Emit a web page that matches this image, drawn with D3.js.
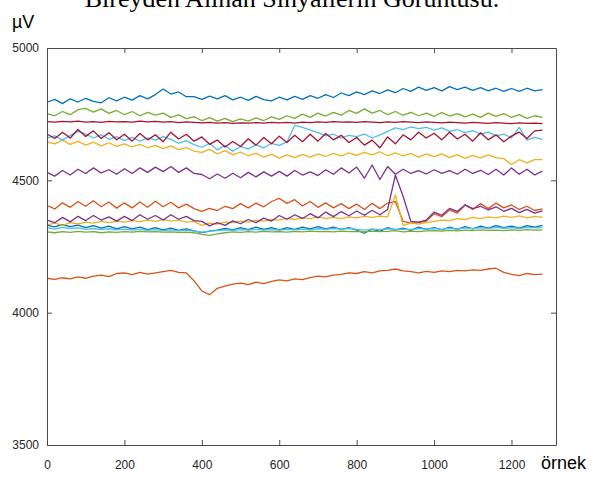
<!DOCTYPE html>
<html>
<head>
<meta charset="utf-8">
<script src="https://cdn.jsdelivr.net/npm/d3@7"></script>
<style>
  body { margin: 0; background: #fff; }
  .axis text { font-family: "Liberation Sans", Arial, sans-serif; font-size: 12px; fill: #262626; }
  .axis path, .axis line { stroke: #4a4a4a; }
  .sig { fill: none; stroke-width: 1.3; stroke-linejoin: round; }
</style>
</head>
<body>
<svg id="chart" width="614" height="478"></svg>
<script>
// one value every 20 samples, 0..1280
var step = 20;
var xTicks = [0, 200, 400, 600, 800, 1000, 1200];
var yTicks = [3500, 4000, 4500, 5000];

var blueTop = [4795,4806,4790,4808,4796,4810,4798,4793,4812,4800,
  4814,4803,4820,4808,4824,4845,4826,4834,4816,4816,
  4806,4818,4808,4820,4804,4814,4802,4817,4805,4800,
  4814,4804,4817,4806,4820,4810,4824,4813,4830,4820,
  4834,4824,4838,4828,4842,4831,4847,4836,4852,4840,
  4850,4838,4854,4843,4852,4840,4850,4838,4848,4836,
  4847,4836,4848,4838,4843];
var orangeMid = [4405,4392,4415,4398,4420,4402,4423,4400,4418,4395,
  4415,4396,4418,4398,4421,4400,4417,4396,4410,4393,
  4383,4394,4386,4402,4393,4412,4396,4414,4400,4420,
  4432,4413,4427,4403,4420,4398,4415,4396,4412,4393,
  4410,4390,4413,4393,4414,4420,4345,4338,4340,4346,
  4374,4363,4388,4376,4407,4390,4412,4393,4414,4396,
  4407,4390,4402,4386,4392];
var yellowTop = [4645,4638,4652,4636,4647,4633,4644,4630,4642,4628,
  4638,4626,4636,4623,4632,4620,4630,4616,4624,4610,
  4606,4617,4600,4612,4596,4607,4593,4602,4588,4598,
  4584,4596,4586,4598,4588,4600,4590,4602,4592,4604,
  4594,4606,4596,4608,4593,4604,4592,4602,4588,4600,
  4590,4600,4586,4597,4583,4594,4584,4596,4586,4582,
  4560,4578,4566,4578,4578];
var purpleTop = [4530,4516,4537,4520,4542,4526,4547,4528,4540,4523,
  4544,4526,4547,4530,4550,4533,4552,4530,4547,4526,
  4522,4506,4524,4508,4527,4510,4530,4513,4532,4516,
  4534,4516,4537,4520,4532,4518,4540,4523,4547,4528,
  4550,4508,4558,4503,4552,4523,4542,4526,4537,4524,
  4540,4526,4537,4523,4542,4526,4538,4522,4542,4520,
  4547,4523,4542,4520,4535];
var greenTop = [4752,4744,4760,4748,4767,4772,4758,4770,4753,4764,
  4748,4760,4744,4757,4746,4754,4738,4747,4733,4740,
  4726,4737,4724,4734,4722,4732,4724,4736,4726,4740,
  4730,4744,4734,4750,4738,4754,4743,4757,4746,4764,
  4753,4770,4754,4764,4748,4760,4746,4757,4744,4754,
  4742,4756,4743,4752,4740,4750,4738,4754,4742,4752,
  4738,4748,4734,4744,4738];
var lightBlueTop = [4660,4668,4652,4670,4685,4675,4660,4672,4655,4665,
  4650,4662,4648,4660,4652,4665,4655,4640,4650,4635,
  4625,4640,4615,4632,4610,4628,4618,4635,4622,4640,
  4632,4645,4708,4700,4690,4680,4668,4675,4660,4670,
  4665,4675,4660,4672,4685,4698,4692,4702,4695,4700,
  4690,4698,4685,4692,4680,4688,4675,4682,4668,4675,
  4660,4700,4652,4662,4655];
var darkRedFlat = [4722,4720,4723,4721,4724,4720,4722,4719,4723,4721,
  4722,4720,4724,4721,4723,4720,4722,4718,4721,4719,
  4717,4719,4716,4718,4715,4717,4716,4718,4716,4719,
  4717,4719,4716,4720,4718,4721,4719,4722,4720,4721,
  4719,4722,4720,4718,4721,4719,4722,4720,4718,4721,
  4719,4717,4720,4718,4716,4719,4717,4715,4718,4716,
  4714,4717,4715,4716,4714];
var blueLow = [4330,4324,4333,4325,4331,4321,4329,4319,4327,4317,
  4325,4317,4323,4314,4321,4313,4319,4311,4317,4309,
  4302,4308,4312,4318,4313,4321,4314,4323,4315,4321,
  4313,4321,4315,4323,4317,4325,4317,4323,4315,4321,
  4312,4300,4316,4307,4321,4313,4319,4311,4323,4315,
  4321,4313,4323,4315,4325,4317,4327,4319,4329,4321,
  4327,4319,4329,4323,4330];
var orangeLow = [4130,4126,4132,4128,4135,4130,4138,4142,4136,4148,
  4150,4144,4152,4146,4150,4155,4160,4152,4150,4120,
  4082,4068,4092,4100,4108,4112,4106,4115,4110,4118,
  4124,4120,4128,4125,4132,4138,4135,4142,4145,4150,
  4148,4155,4150,4158,4160,4165,4158,4155,4150,4156,
  4152,4158,4155,4160,4158,4162,4160,4165,4168,4152,
  4145,4140,4148,4144,4146];
var yellowLow = [4332,4338,4330,4340,4335,4342,4338,4345,4340,4346,
  4342,4348,4344,4350,4345,4352,4346,4350,4342,4345,
  4330,4338,4335,4342,4340,4346,4342,4350,4346,4352,
  4350,4356,4352,4358,4355,4362,4356,4360,4355,4362,
  4358,4364,4360,4365,4362,4445,4330,4338,4335,4340,
  4345,4350,4348,4355,4352,4360,4355,4362,4358,4365,
  4360,4366,4358,4364,4360];
var purpleLow = [4350,4340,4360,4343,4364,4348,4367,4350,4362,4346,
  4364,4348,4370,4353,4367,4350,4370,4353,4364,4348,
  4345,4328,4340,4330,4347,4336,4352,4340,4357,4346,
  4367,4353,4370,4356,4374,4358,4380,4363,4382,4366,
  4384,4368,4387,4370,4390,4520,4440,4345,4342,4350,
  4380,4368,4394,4383,4407,4393,4402,4388,4400,4383,
  4394,4378,4390,4376,4385];
var greenLow = [4305,4302,4306,4303,4307,4304,4306,4302,4305,4303,
  4306,4304,4307,4305,4306,4304,4305,4303,4304,4302,
  4296,4292,4298,4302,4305,4303,4306,4304,4307,4305,
  4306,4304,4307,4305,4308,4306,4307,4305,4308,4306,
  4307,4305,4308,4306,4307,4310,4305,4308,4306,4309,
  4310,4308,4311,4309,4312,4310,4313,4311,4312,4310,
  4313,4311,4314,4312,4313];
var lightBlueLow = [4320,4316,4322,4318,4320,4315,4318,4314,4317,4313,
  4316,4312,4315,4311,4314,4310,4313,4309,4312,4308,
  4304,4308,4310,4313,4311,4314,4312,4315,4312,4314,
  4312,4315,4313,4316,4314,4317,4315,4318,4316,4318,
  4315,4312,4316,4314,4317,4315,4316,4314,4318,4316,
  4318,4315,4319,4316,4320,4317,4321,4318,4322,4319,
  4321,4318,4322,4320,4321];
var darkRedWiggle = [4675,4658,4682,4660,4692,4666,4687,4658,4680,4653,
  4674,4648,4677,4653,4672,4646,4682,4656,4674,4648,
  4664,4636,4652,4626,4647,4628,4657,4633,4662,4638,
  4667,4643,4670,4646,4674,4648,4677,4653,4670,4643,
  4662,4633,4652,4623,4664,4638,4672,4653,4682,4660,
  4678,4653,4682,4656,4674,4648,4680,4653,4672,4646,
  4667,4682,4658,4687,4690];

// channel order = drawing order, MATLAB colour cycle
var channels = [blueTop, orangeMid, yellowTop, purpleTop, greenTop, lightBlueTop, darkRedFlat,
  blueLow, orangeLow, yellowLow, purpleLow, greenLow, lightBlueLow, darkRedWiggle];
var colors = ["#0072BD", "#D95319", "#EDB120", "#7E2F8E", "#77AC30", "#4DBEEE", "#A2142F"];

var svg = d3.select("#chart"),
    margin = {top: 48, right: 58, bottom: 33, left: 47},
    width = +svg.attr("width") - margin.left - margin.right,
    height = +svg.attr("height") - margin.top - margin.bottom;

var x = d3.scaleLinear().domain([0, 1315]).range([0, width]),
    y = d3.scaleLinear().domain([3500, 5000]).range([height, 0]);

var g = svg.append("g")
    .attr("transform", "translate(" + margin.left + "," + margin.top + ")");

var line = d3.line()
    .x(function(d, i) { return x(i * step); })
    .y(function(d) { return y(d); });

g.selectAll(".sig")
  .data(channels)
  .enter().append("path")
    .attr("class", "sig")
    .attr("stroke", function(d, i) { return colors[i % colors.length]; })
    .attr("d", line);

// box with inward ticks on all sides
g.append("g")
    .attr("class", "axis")
    .attr("transform", "translate(0," + height + ")")
    .call(d3.axisBottom(x).tickValues(xTicks).tickFormat(d3.format("d"))
      .tickSizeInner(-5).tickSizeOuter(0).tickPadding(15));

g.append("g")
    .attr("class", "axis")
    .call(d3.axisTop(x).tickValues(xTicks).tickSizeInner(-5).tickSizeOuter(0).tickFormat(""));

g.append("g")
    .attr("class", "axis")
    .call(d3.axisLeft(y).tickValues(yTicks).tickFormat(d3.format("d"))
      .tickSizeInner(-5).tickSizeOuter(0).tickPadding(8));

g.append("g")
    .attr("class", "axis")
    .attr("transform", "translate(" + width + ",0)")
    .call(d3.axisRight(y).tickValues(yTicks).tickSizeInner(-5).tickSizeOuter(0).tickFormat(""));

// labels (title sits partly above the frame, as in the source image)
svg.append("text")
    .attr("x", 292)
    .attr("y", 7)
    .attr("text-anchor", "middle")
    .style("font-family", "'Liberation Serif', 'Times New Roman', serif")
    .style("font-size", "26px")
    .style("fill", "#000")
    .text("Bireyden Alınan Sinyallerin Görüntüsü.");

svg.append("text")
    .attr("x", 12)
    .attr("y", 28)
    .style("font-family", "'Liberation Sans', Arial, sans-serif")
    .style("font-size", "18px")
    .style("fill", "#000")
    .text("µV");

svg.append("text")
    .attr("x", 541)
    .attr("y", 469)
    .style("font-family", "'Liberation Sans', Arial, sans-serif")
    .style("font-size", "18px")
    .style("fill", "#000")
    .text("örnek");
</script>
</body>
</html>
